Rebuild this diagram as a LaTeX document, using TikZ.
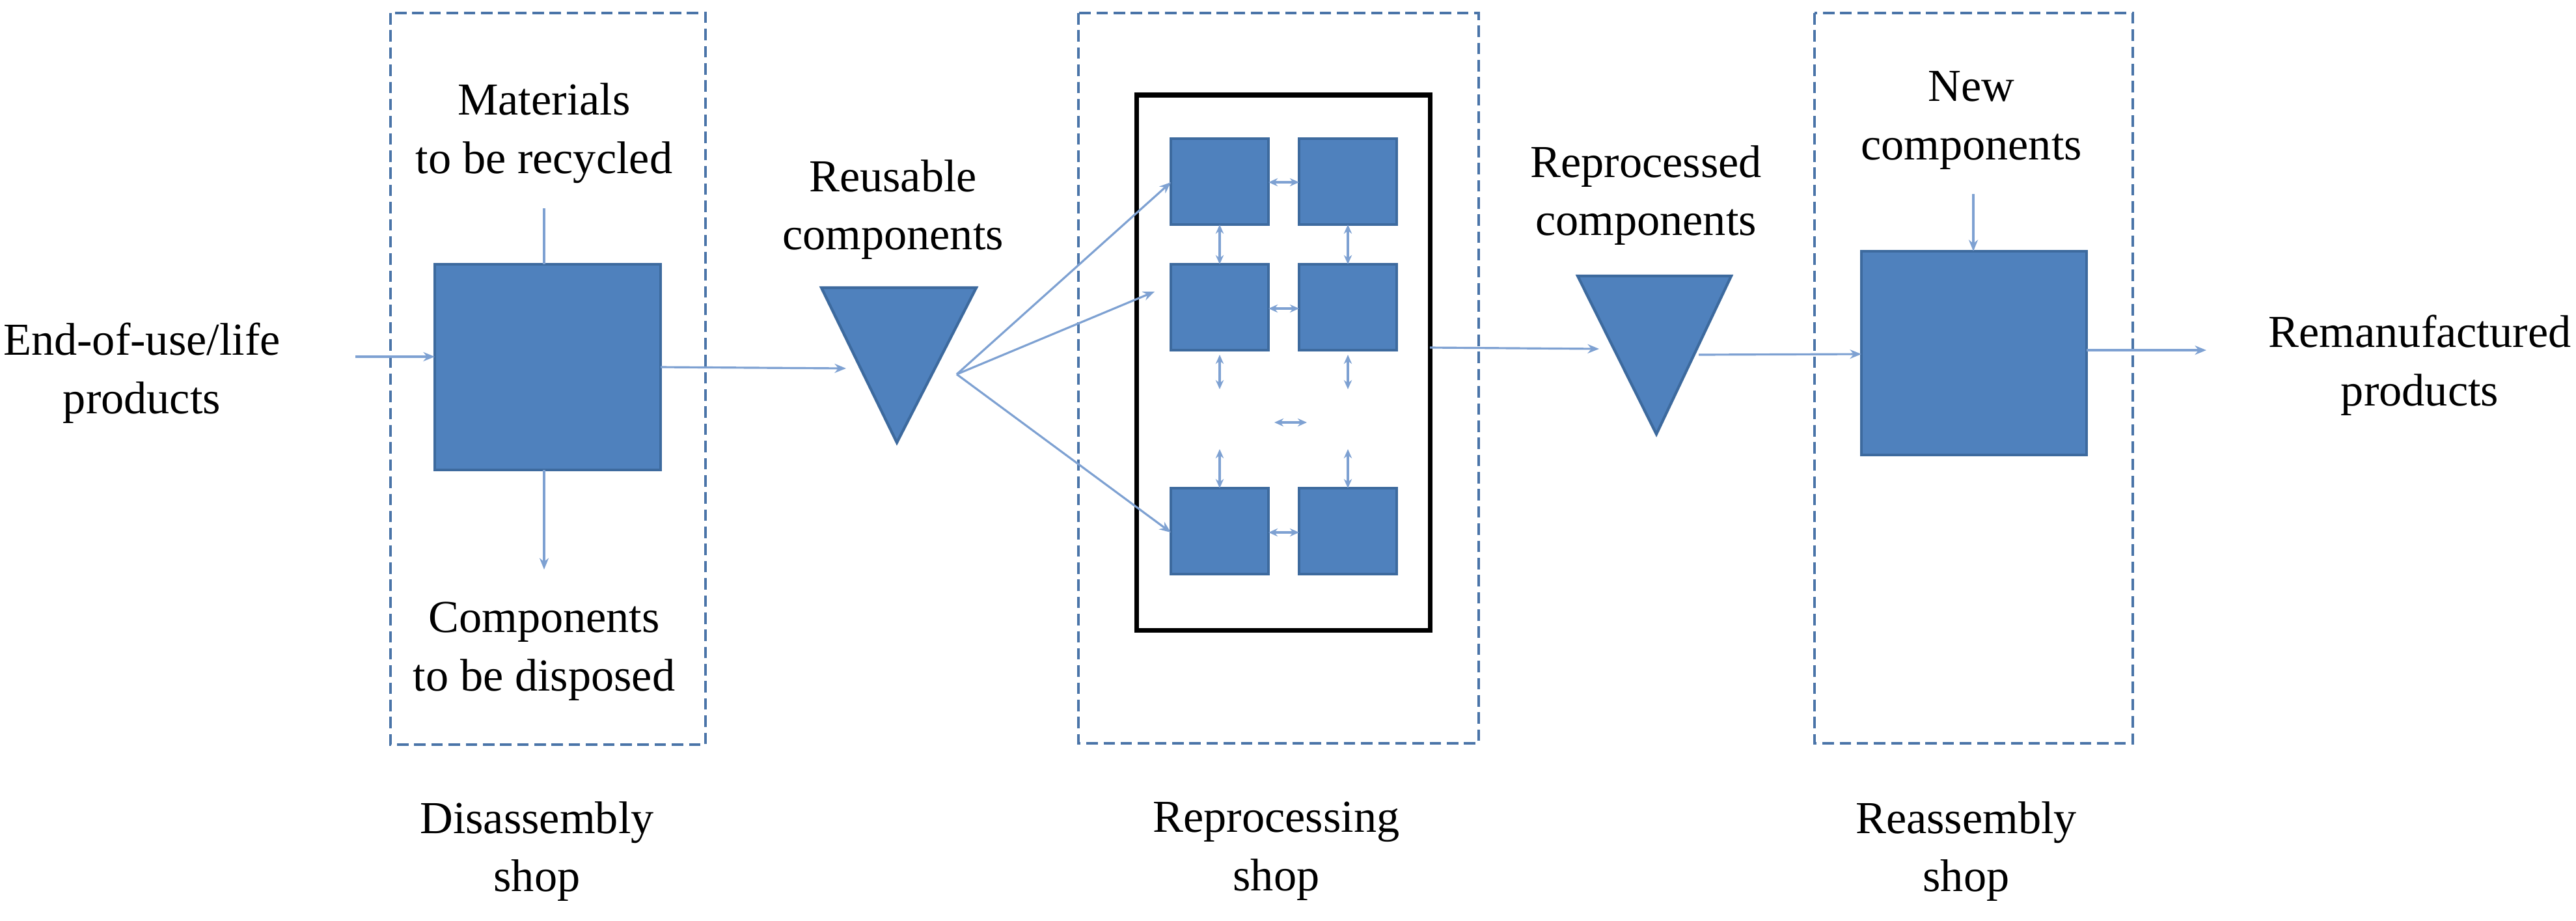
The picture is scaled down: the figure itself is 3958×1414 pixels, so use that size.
\documentclass[tikz,border=0pt]{standalone}
\usepackage{fontspec}
\setmainfont{Liberation Serif}
\usetikzlibrary{arrows.meta}
\definecolor{bfill}{HTML}{4F81BD}
\definecolor{bdraw}{HTML}{3D6A9E}
\definecolor{arr}{HTML}{7EA1D2}
\definecolor{dash}{HTML}{4A74A8}
\begin{document}
\begin{tikzpicture}[x=0.01cm,y=-0.01cm,
  txt/.style={font=\fontsize{20}{25.5}\selectfont,align=center,inner sep=0pt},
  blk/.style={fill=bfill,draw=bdraw,line width=1.2pt},
  shop/.style={draw=dash,dashed,line width=1.3pt,dash pattern=on 5pt off 2.5pt},
  ar/.style={draw=arr,line width=0.9pt,-{Stealth[length=5pt,width=4pt]}},
  dar/.style={draw=arr,line width=0.9pt,{Stealth[length=4pt,width=3.5pt]}-{Stealth[length=4pt,width=3.5pt]}}]
\useasboundingbox (0,0) rectangle (3958,1414);
% shop boxes
\draw[shop] (600,20) rectangle (1084,1144);
\draw[shop] (1657,20) rectangle (2272,1142);
\draw[shop] (2788,20) rectangle (3277,1142);
\draw[black,line width=2pt] (1746,146) rectangle (2197,968);
% disassembly
\path[blk] (668,406) rectangle (1015,722);
\coordinate (s1w) at (668,564); \coordinate (s1e) at (1015,564);
\coordinate (s1n) at (836,406); \coordinate (s1s) at (836,722);
\coordinate (upend) at (836,320); \coordinate (dnend) at (836,875);
\coordinate (inbeg) at (546,548); \coordinate (s1wi) at (668,548);
\node[txt] (eol) at (218,573) {End-of-use/life\\products};
\node[txt] (mat) at (836,205) {Materials\\to be recycled};
\node[txt] (comp) at (836,1001) {Components\\to be disposed};
\node[txt] (dis) at (825,1308) {Disassembly\\shop};
\draw[ar] (inbeg) -- (s1wi);
\draw[arr,line width=0.9pt] (s1n) -- (upend);
\draw[ar] (s1s) -- (dnend);
% reusable triangle
\path[blk] (1262,442) -- (1500,442) -- (1378,680) -- cycle;
\coordinate (t1w) at (1300,566);
\coordinate (t1a) at (1470,575);
\draw[ar] (s1e) -- (t1w);
\node[txt] (reu) at (1372,322) {Reusable\\components};
% small squares
\foreach \n/\x/\y in {a/1799/213,b/1996/213,c/1799/406,d/1996/406,e/1799/750,f/1996/750}
  {\path[blk] (\x,\y) rectangle ++(150,132); \coordinate (\n) at (\x,\y);}
\coordinate (aw) at (1799,280); \coordinate (cw) at (1774,448); \coordinate (ew) at (1799,818);
\draw[ar] (t1a) -- (aw);
\draw[ar] (t1a) -- (cw);
\draw[ar] (t1a) -- (ew);
% internal double arrows
\foreach \y in {280,474,818} {\coordinate (hl\y) at (1949,\y); \coordinate (hr\y) at (1996,\y); \draw[dar] (hl\y) -- (hr\y);}
\foreach \x in {1874,2071} {
  \coordinate (vt\x) at (\x,345); \coordinate (vb\x) at (\x,406); \draw[dar] (vt\x) -- (vb\x);
  \coordinate (wt\x) at (\x,545); \coordinate (wb\x) at (\x,598); \draw[dar] (wt\x) -- (wb\x);
  \coordinate (ut\x) at (\x,690); \coordinate (ub\x) at (\x,750); \draw[dar] (ut\x) -- (ub\x);}
\coordinate (ml) at (1958,649); \coordinate (mr) at (2008,649); \draw[dar] (ml) -- (mr);
\node[txt] (rep) at (1961,1308) {Reprocessing\\shop};
% reprocessed
\coordinate (bxe) at (2197,534); \coordinate (t2w) at (2457,536);
\draw[ar] (bxe) -- (t2w);
\path[blk] (2424,424) -- (2660,424) -- (2545,667) -- cycle;
\node[txt] (rpc) at (2529,300) {Reprocessed\\components};
\coordinate (t2e) at (2610,545);
% reassembly
\path[blk] (2860,386) rectangle (3206,699);
\coordinate (s3w) at (2860,544); \coordinate (s3n) at (3032,386); \coordinate (s3e) at (3206,538);
\coordinate (newend) at (3032,298); \coordinate (outend) at (3390,538);
\draw[ar] (t2e) -- (s3w);
\draw[ar] (newend) -- (s3n);
\draw[ar] (s3e) -- (outend);
\node[txt] (new) at (3029,185) {New\\components};
\node[txt] (rem) at (3718,561) {Remanufactured\\products};
\node[txt] (rea) at (3021,1308) {Reassembly\\shop};
\end{tikzpicture}
\end{document}
